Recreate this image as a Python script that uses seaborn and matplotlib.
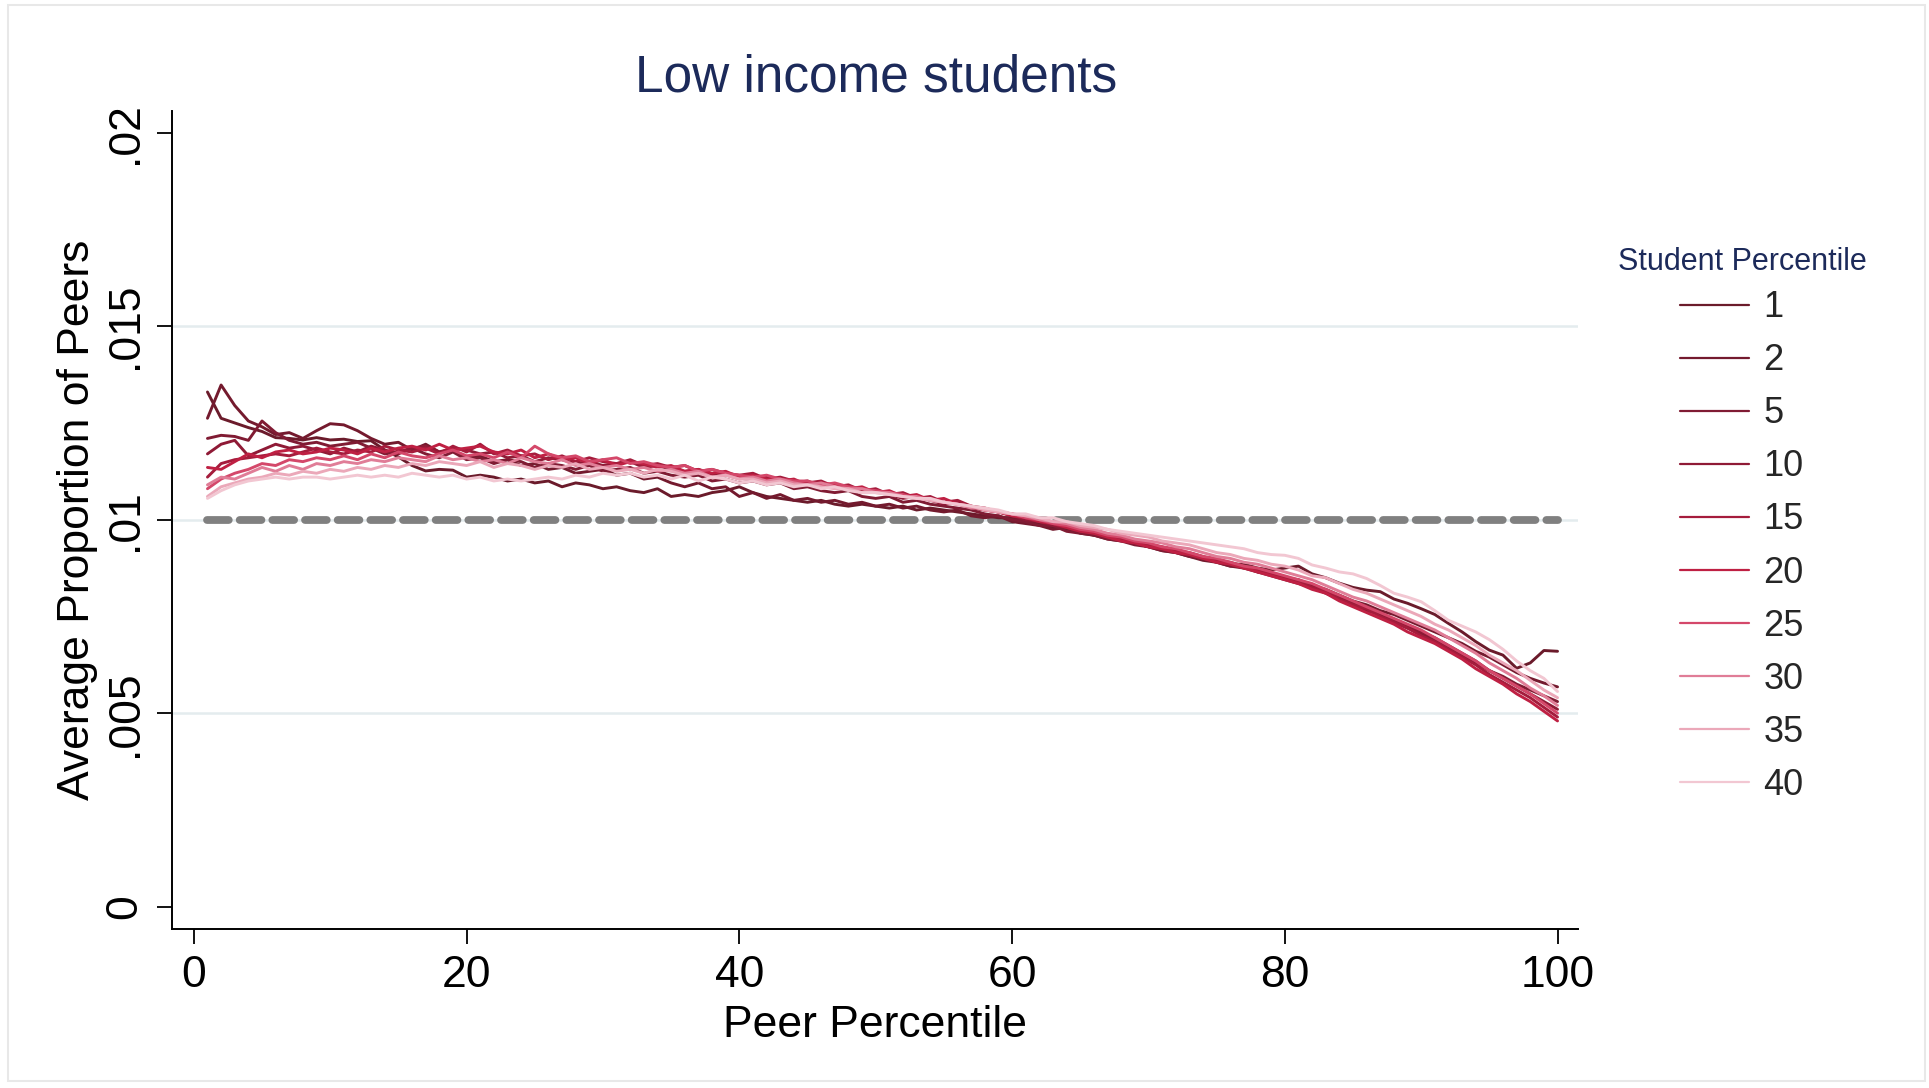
import matplotlib
matplotlib.use("Agg")
import matplotlib.pyplot as plt
import seaborn as sns
import pandas as pd
from matplotlib.patches import Rectangle

# ---------------- data ----------------
peer_percentile = list(range(1, 101))
student_percentiles = ["1", "2", "5", "10", "15", "20", "25", "30", "35", "40"]

# average proportion of peers, in thousandths (x 0.001)
s1 = [13.30, 12.62, 12.50, 12.38, 12.28, 12.12, 12.10, 12.06, 12.12, 12.06,
      12.08, 12.02, 12.04, 11.80, 11.62, 11.40, 11.26, 11.30, 11.28, 11.10,
      11.15, 11.10, 11.00, 11.05, 10.95, 11.00, 10.85, 10.95, 10.90, 10.80,
      10.85, 10.75, 10.70, 10.80, 10.60, 10.65, 10.60, 10.70, 10.75, 10.85,
      10.70, 10.60, 10.55, 10.50, 10.45, 10.50, 10.40, 10.35, 10.40, 10.35,
      10.30, 10.35, 10.25, 10.30, 10.25, 10.20, 10.15, 10.10, 10.05, 10.05,
      9.95, 9.90, 9.80, 9.75, 9.70, 9.60, 9.55, 9.50, 9.40, 9.30,
      9.25, 9.20, 9.10, 9.00, 8.95, 8.85, 8.85, 8.75, 8.70, 8.75,
      8.80, 8.60, 8.50, 8.36, 8.25, 8.18, 8.14, 7.95, 7.84, 7.70,
      7.55, 7.32, 7.10, 6.85, 6.63, 6.50, 6.16, 6.30, 6.62, 6.60]
s2 = [12.62, 13.48, 12.95, 12.55, 12.40, 12.20, 12.25, 12.10, 12.30, 12.48,
      12.45, 12.30, 12.10, 11.95, 12.00, 11.80, 11.95, 11.75, 11.80, 11.60,
      11.65, 11.50, 11.55, 11.40, 11.45, 11.30, 11.35, 11.20, 11.25, 11.30,
      11.15, 11.20, 11.05, 11.10, 10.95, 10.85, 10.95, 10.80, 10.85, 10.60,
      10.70, 10.55, 10.65, 10.50, 10.55, 10.45, 10.50, 10.40, 10.45, 10.35,
      10.40, 10.30, 10.35, 10.25, 10.20, 10.25, 10.10, 10.05, 10.10, 9.95,
      9.90, 9.85, 9.75, 9.80, 9.65, 9.60, 9.50, 9.45, 9.40, 9.30,
      9.20, 9.15, 9.05, 8.95, 8.90, 8.80, 8.75, 8.65, 8.60, 8.50,
      8.45, 8.30, 8.20, 8.05, 7.90, 7.80, 7.65, 7.55, 7.40, 7.25,
      7.10, 6.95, 6.80, 6.60, 6.45, 6.25, 6.05, 5.90, 5.78, 5.68]
s5 = [12.10, 12.18, 12.15, 12.05, 12.55, 12.25, 12.05, 11.95, 12.00, 11.90,
      11.95, 12.00, 11.85, 11.70, 11.75, 11.85, 11.70, 11.60, 11.75, 11.55,
      11.60, 11.45, 11.55, 11.50, 11.35, 11.45, 11.40, 11.30, 11.40, 11.25,
      11.30, 11.35, 11.20, 11.25, 11.15, 11.10, 11.15, 11.00, 11.05, 10.95,
      11.00, 10.90, 10.95, 10.80, 10.85, 10.75, 10.70, 10.75, 10.60, 10.55,
      10.60, 10.45, 10.50, 10.40, 10.35, 10.30, 10.25, 10.15, 10.10, 10.00,
      9.95, 9.85, 9.85, 9.70, 9.65, 9.60, 9.50, 9.45, 9.35, 9.30,
      9.20, 9.15, 9.05, 9.00, 8.90, 8.80, 8.80, 8.65, 8.55, 8.45,
      8.35, 8.25, 8.10, 7.95, 7.80, 7.65, 7.55, 7.35, 7.20, 7.05,
      6.90, 6.70, 6.50, 6.30, 6.10, 5.95, 5.75, 5.60, 5.45, 5.30]
s10 = [11.70, 11.95, 12.05, 11.65, 11.80, 11.95, 11.85, 11.90, 11.80, 11.70,
       11.85, 11.75, 11.90, 11.80, 11.70, 11.85, 11.90, 11.75, 11.85, 11.80,
       11.70, 11.75, 11.60, 11.65, 11.50, 11.60, 11.55, 11.45, 11.50, 11.40,
       11.45, 11.50, 11.35, 11.40, 11.30, 11.25, 11.30, 11.15, 11.20, 11.10,
       11.05, 11.10, 11.00, 10.95, 11.00, 10.85, 10.90, 10.80, 10.70, 10.75,
       10.65, 10.55, 10.60, 10.50, 10.40, 10.45, 10.30, 10.25, 10.20, 10.10,
       10.00, 9.95, 9.85, 9.80, 9.70, 9.65, 9.55, 9.50, 9.40, 9.35,
       9.25, 9.20, 9.10, 9.00, 8.95, 8.85, 8.75, 8.70, 8.60, 8.50,
       8.40, 8.30, 8.15, 8.00, 7.85, 7.70, 7.60, 7.40, 7.25, 7.10,
       6.95, 6.75, 6.55, 6.35, 6.10, 5.90, 5.70, 5.50, 5.30, 5.10]
s15 = [11.10, 11.45, 11.55, 11.60, 11.65, 11.70, 11.65, 11.75, 11.85, 11.75,
       11.70, 11.80, 11.75, 11.90, 11.80, 11.75, 11.85, 11.70, 11.90, 11.75,
       11.95, 11.70, 11.80, 11.65, 11.70, 11.55, 11.65, 11.50, 11.60, 11.50,
       11.45, 11.55, 11.40, 11.45, 11.35, 11.40, 11.25, 11.30, 11.20, 11.15,
       11.20, 11.05, 11.10, 11.00, 10.95, 11.00, 10.85, 10.90, 10.75, 10.80,
       10.65, 10.70, 10.55, 10.60, 10.45, 10.50, 10.35, 10.30, 10.20, 10.15,
       10.05, 10.00, 9.90, 9.85, 9.75, 9.70, 9.60, 9.50, 9.45, 9.35,
       9.30, 9.20, 9.15, 9.05, 8.95, 8.90, 8.80, 8.70, 8.60, 8.50,
       8.40, 8.25, 8.15, 7.95, 7.80, 7.70, 7.50, 7.35, 7.20, 7.00,
       6.85, 6.65, 6.45, 6.25, 6.00, 5.80, 5.60, 5.40, 5.15, 4.90]
s20 = [11.35, 11.30, 11.50, 11.70, 11.60, 11.75, 11.80, 11.70, 11.75, 11.85,
       11.80, 11.70, 11.85, 11.75, 11.85, 11.90, 11.80, 11.95, 11.80, 11.85,
       11.90, 11.75, 11.70, 11.80, 11.60, 11.70, 11.55, 11.60, 11.45, 11.55,
       11.40, 11.50, 11.45, 11.35, 11.40, 11.25, 11.30, 11.20, 11.25, 11.10,
       11.15, 11.05, 11.00, 11.05, 10.90, 10.95, 10.90, 10.80, 10.85, 10.70,
       10.75, 10.60, 10.65, 10.50, 10.55, 10.40, 10.35, 10.25, 10.20, 10.10,
       10.05, 9.95, 9.90, 9.80, 9.70, 9.65, 9.55, 9.45, 9.40, 9.30,
       9.25, 9.15, 9.10, 9.00, 8.90, 8.85, 8.75, 8.65, 8.55, 8.45,
       8.35, 8.20, 8.10, 7.90, 7.75, 7.60, 7.45, 7.30, 7.10, 6.95,
       6.80, 6.60, 6.40, 6.15, 5.95, 5.75, 5.50, 5.30, 5.05, 4.80]
s25 = [10.80, 11.05, 11.20, 11.30, 11.45, 11.40, 11.55, 11.50, 11.60, 11.55,
       11.65, 11.55, 11.70, 11.60, 11.75, 11.65, 11.60, 11.70, 11.80, 11.65,
       11.70, 11.60, 11.75, 11.60, 11.90, 11.70, 11.60, 11.65, 11.50, 11.55,
       11.60, 11.45, 11.50, 11.40, 11.35, 11.40, 11.25, 11.30, 11.20, 11.15,
       11.10, 11.15, 11.05, 11.00, 11.00, 10.90, 10.95, 10.85, 10.80, 10.75,
       10.70, 10.65, 10.55, 10.55, 10.45, 10.40, 10.35, 10.25, 10.20, 10.15,
       10.05, 10.00, 9.90, 9.85, 9.75, 9.70, 9.60, 9.55, 9.45, 9.40,
       9.30, 9.25, 9.15, 9.05, 9.00, 8.90, 8.80, 8.75, 8.65, 8.55,
       8.45, 8.35, 8.20, 8.05, 7.90, 7.75, 7.60, 7.45, 7.30, 7.15,
       6.95, 6.75, 6.55, 6.35, 6.10, 5.90, 5.70, 5.50, 5.25, 5.00]
s30 = [10.90, 11.10, 11.05, 11.20, 11.35, 11.25, 11.40, 11.30, 11.45, 11.40,
       11.50, 11.45, 11.55, 11.50, 11.60, 11.55, 11.50, 11.65, 11.55, 11.60,
       11.50, 11.55, 11.45, 11.60, 11.50, 11.45, 11.55, 11.40, 11.45, 11.35,
       11.40, 11.30, 11.35, 11.25, 11.30, 11.20, 11.25, 11.10, 11.15, 11.05,
       11.10, 11.00, 11.05, 10.95, 10.90, 10.95, 10.85, 10.80, 10.80, 10.70,
       10.70, 10.60, 10.60, 10.50, 10.45, 10.40, 10.30, 10.30, 10.20, 10.15,
       10.10, 10.00, 9.95, 9.90, 9.80, 9.75, 9.65, 9.60, 9.50, 9.45,
       9.40, 9.30, 9.25, 9.15, 9.05, 9.00, 8.90, 8.85, 8.75, 8.65,
       8.55, 8.45, 8.30, 8.15, 8.00, 7.90, 7.75, 7.60, 7.45, 7.30,
       7.15, 6.95, 6.75, 6.55, 6.30, 6.10, 5.90, 5.65, 5.45, 5.20]
s35 = [10.60, 10.85, 10.95, 11.05, 11.10, 11.20, 11.15, 11.25, 11.20, 11.30,
       11.25, 11.35, 11.30, 11.40, 11.35, 11.45, 11.40, 11.50, 11.45, 11.40,
       11.50, 11.35, 11.45, 11.40, 11.30, 11.40, 11.35, 11.45, 11.30, 11.35,
       11.25, 11.30, 11.20, 11.30, 11.25, 11.15, 11.20, 11.10, 11.15, 11.05,
       11.05, 10.95, 11.00, 10.90, 10.90, 10.85, 10.80, 10.80, 10.70, 10.70,
       10.65, 10.60, 10.55, 10.50, 10.45, 10.40, 10.35, 10.25, 10.20, 10.15,
       10.10, 10.05, 9.95, 9.95, 9.85, 9.80, 9.75, 9.65, 9.60, 9.55,
       9.45, 9.40, 9.35, 9.25, 9.15, 9.10, 9.00, 8.95, 8.85, 8.80,
       8.70, 8.55, 8.50, 8.35, 8.20, 8.10, 7.95, 7.80, 7.65, 7.50,
       7.30, 7.15, 6.95, 6.75, 6.50, 6.30, 6.10, 5.85, 5.60, 5.40]
s40 = [10.55, 10.75, 10.90, 11.00, 11.05, 11.10, 11.05, 11.10, 11.10, 11.05,
       11.10, 11.15, 11.10, 11.15, 11.10, 11.20, 11.15, 11.10, 11.15, 11.05,
       11.10, 11.00, 11.05, 11.00, 11.05, 11.10, 11.05, 11.15, 11.10, 11.20,
       11.15, 11.20, 11.10, 11.15, 11.05, 11.15, 11.00, 11.10, 11.05, 10.95,
       11.00, 10.90, 10.95, 10.85, 10.90, 10.80, 10.85, 10.75, 10.70, 10.70,
       10.65, 10.60, 10.55, 10.55, 10.45, 10.40, 10.35, 10.30, 10.25, 10.15,
       10.15, 10.05, 10.05, 9.95, 9.90, 9.85, 9.75, 9.70, 9.65, 9.60,
       9.55, 9.50, 9.45, 9.40, 9.35, 9.30, 9.25, 9.15, 9.10, 9.08,
       9.00, 8.83, 8.75, 8.65, 8.60, 8.48, 8.30, 8.10, 8.00, 7.88,
       7.65, 7.40, 7.25, 7.10, 6.90, 6.65, 6.35, 6.10, 5.90, 5.56]
series = [s1, s2, s5, s10, s15, s20, s25, s30, s35, s40]

# uniform-share reference line (1 / 100)
ref_x = [1, 100]
ref_y = [0.01, 0.01]

y_ticks = [0, 0.005, 0.01, 0.015, 0.02]
y_tick_labels = ["0", ".005", ".01", ".015", ".02"]
x_ticks = [0, 20, 40, 60, 80, 100]
grid_y = [0.005, 0.01, 0.015]

palette = ["#6b1b2b", "#741a2e", "#801b33", "#8f1a36", "#a51c3c",
           "#bf2043", "#d4486a", "#e07d97", "#eba8b9", "#f2c7d2"]

# ---------------- build long table ----------------
rows = []
for lab, vals in zip(student_percentiles, series):
    for p, v in zip(peer_percentile, vals):
        rows.append({"Peer Percentile": p, "Student Percentile": lab,
                     "Average Proportion of Peers": v / 1000.0})
df = pd.DataFrame(rows)

# ---------------- plot ----------------
sns.set_theme(style="white")
plt.rcParams["font.family"] = ["Liberation Sans", "DejaVu Sans"]

fig = plt.figure(figsize=(19.29, 10.88), dpi=100)
ax = fig.add_axes([172 / 1929, 1 - 929 / 1088, (1578 - 172) / 1929, (929 - 111) / 1088])

for gy in grid_y:
    ax.axhline(gy, color="#e4ecee", lw=1.8, zorder=0)

sns.lineplot(x=ref_x, y=ref_y, ax=ax, color="#808080", lw=5.6,
             linestyle=(0, (2.8, 1.4)), dash_capstyle="round", zorder=1)

sns.lineplot(data=df, x="Peer Percentile", y="Average Proportion of Peers",
             hue="Student Percentile", hue_order=student_percentiles,
             palette=palette, lw=2.1, estimator=None, sort=False, ax=ax,
             zorder=2)

ax.set_xlim(-1.6, 101.5)
ax.set_ylim(-0.000576, 0.02056)

for side in ["top", "right"]:
    ax.spines[side].set_visible(False)
for side in ["left", "bottom"]:
    ax.spines[side].set_color("black")
    ax.spines[side].set_linewidth(1.4)

ax.set_xticks(x_ticks)
ax.set_xticklabels([str(t) for t in x_ticks])
ax.set_yticks(y_ticks)
ax.set_yticklabels(y_tick_labels, rotation=90, va="center")
ax.tick_params(axis="both", which="major", length=11, width=1.3,
               color="black", labelsize=32, labelcolor="black",
               direction="out", left=True, bottom=True)
ax.tick_params(axis="x", pad=8)
ax.tick_params(axis="y", pad=8)

ax.set_xlabel("Peer Percentile", fontsize=32, color="black", labelpad=6)
ax.set_ylabel("Average Proportion of Peers", fontsize=32, color="black", labelpad=5)

fig.text(876 / 1929, 1 - 78 / 1088, "Low income students", fontsize=37,
         color="#1c2a5a", ha="center", va="center")

handles, labels = ax.get_legend_handles_labels()
keep = [(h, l) for h, l in zip(handles, labels) if l in student_percentiles]
handles = [h for h, _ in keep]
labels = [l for _, l in keep]
for h in handles:
    h.set_linewidth(1.6)
leg = ax.legend(handles, labels, title="Student Percentile",
                loc="upper center", bbox_to_anchor=(1742 / 1929, 1 - 229 / 1088),
                bbox_transform=fig.transFigure, frameon=False, fontsize=26,
                title_fontsize=22, handlelength=1.9, handletextpad=0.4,
                labelspacing=0.5, borderpad=0)
leg.get_title().set_color("#1c2a5a")
leg._legend_box.sep = max(leg._legend_box.sep - 3.5, 0)

fig.patches.append(Rectangle((0.004, 0.006), 0.994, 0.989, transform=fig.transFigure,
                             fill=False, ec="#e8e8e8", lw=1.5))

fig.savefig("out.png", dpi=100, facecolor="white")
